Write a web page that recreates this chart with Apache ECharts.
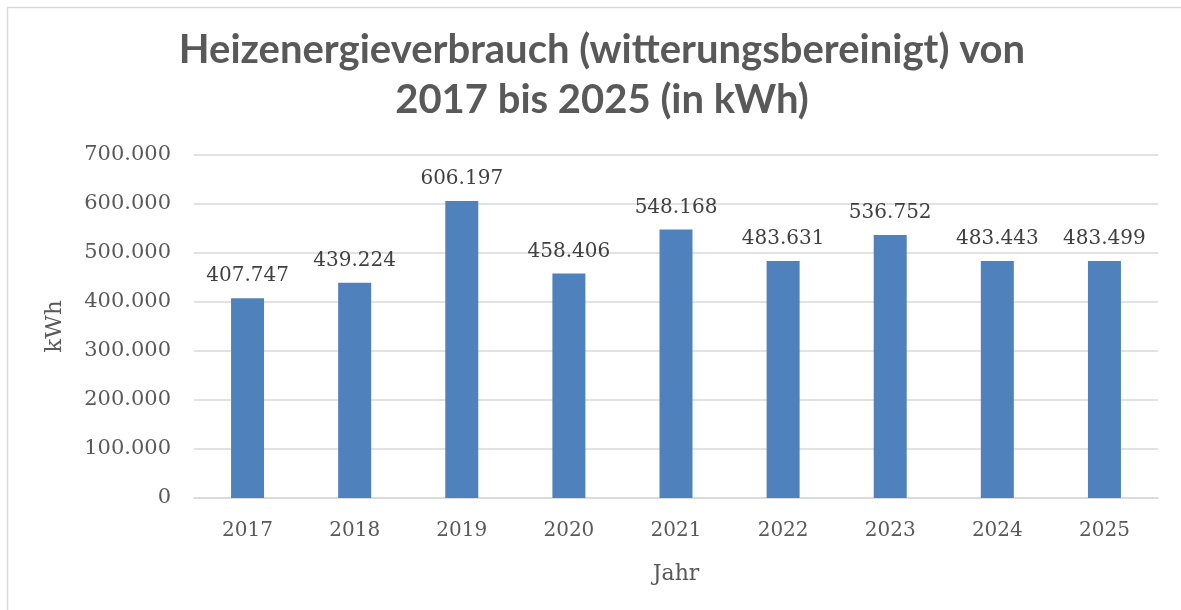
<!DOCTYPE html>
<html>
<head>
<meta charset="utf-8">
<script src="https://cdn.jsdelivr.net/npm/echarts@6/dist/echarts.min.js"></script>
<style>
  html, body { margin: 0; padding: 0; background: #fff; }
  #chart { width: 1181px; height: 610px; }
</style>
</head>
<body>
<div id="chart"></div>
<script>
// Chart data
const years = ["2017", "2018", "2019", "2020", "2021", "2022", "2023", "2024", "2025"];
const consumption = [407747, 439224, 606197, 458406, 548168, 483631, 536752, 483443, 483499];
const yTicks = [0, 100000, 200000, 300000, 400000, 500000, 600000, 700000];

const grey = "#595959";
const serif = "DejaVu Serif";

// German thousands separator
function fmt(v) {
  return String(v).replace(/\B(?=(\d{3})+(?!\d))/g, ".");
}

let myChart = echarts.init(document.getElementById("chart"));

let option = {
  animation: false,
  backgroundColor: "#fff",
  graphic: [
    {
      type: "rect",
      shape: { x: 7.5, y: 7.5, width: 1200, height: 620 },
      style: { fill: "none", stroke: "#d9d9d9", lineWidth: 1.5 },
      silent: true,
    },
  ],
  title: {
    text: "Heizenergieverbrauch (witterungsbereinigt) von\n2017 bis 2025 (in kWh)",
    left: 597,
    textAlign: "center",
    top: 20,
    textStyle: {
      fontFamily: "Lato",
      fontWeight: "bold",
      fontSize: 40,
      lineHeight: 50,
      color: grey,
    },
  },
  grid: {
    left: 194,
    right: 23,
    top: 155,
    bottom: 112,
    containLabel: false,
  },
  xAxis: {
    type: "category",
    data: years,
    name: "Jahr",
    nameLocation: "middle",
    nameGap: 65,
    nameTextStyle: { fontFamily: serif, fontSize: 22, color: grey },
    axisLine: { lineStyle: { color: "#d9d9d9", width: 1.5 } },
    axisTick: { show: false },
    axisLabel: {
      fontFamily: serif,
      fontSize: 20,
      color: grey,
      margin: 23,
    },
  },
  yAxis: {
    type: "value",
    min: 0,
    max: 700000,
    interval: 100000,
    name: "kWh",
    nameLocation: "middle",
    nameGap: 127,
    nameRotate: 90,
    nameTextStyle: { fontFamily: serif, fontSize: 23, color: grey },
    axisLine: { show: false },
    axisTick: { show: false },
    splitLine: { lineStyle: { color: "#d9d9d9", width: 1.5 } },
    axisLabel: {
      fontFamily: serif,
      fontSize: 21,
      color: grey,
      margin: 23,
      formatter: function (v) {
        return yTicks.indexOf(v) >= 0 ? fmt(v) : "";
      },
    },
  },
  series: [
    {
      type: "bar",
      data: consumption,
      barWidth: 33,
      itemStyle: { color: "#4f81bd" },
      label: {
        show: true,
        position: "top",
        distance: 12,
        fontFamily: serif,
        fontSize: 20,
        color: "#404040",
        formatter: function (p) {
          return fmt(p.value);
        },
      },
    },
  ],
};

myChart.setOption(option);
</script>
</body>
</html>
